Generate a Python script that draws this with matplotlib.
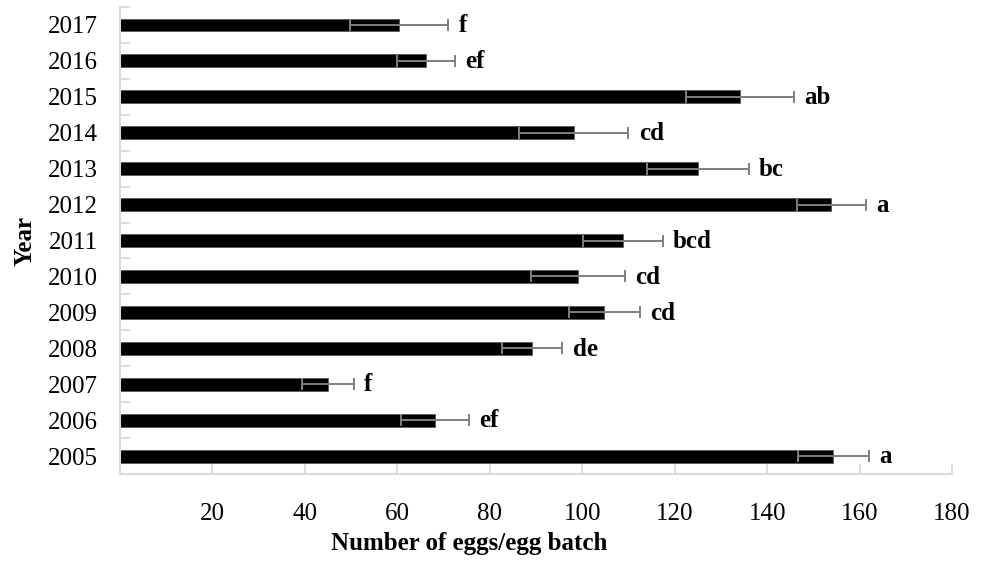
import matplotlib
matplotlib.use('Agg')
import matplotlib.pyplot as plt
import numpy as np

plt.rcParams['font.family'] = 'serif'
plt.rcParams['font.serif'] = ['Liberation Serif', 'DejaVu Serif']

years = ['2005', '2006', '2007', '2008', '2009', '2010', '2011',
         '2012', '2013', '2014', '2015', '2016', '2017']
eggs = [154.3, 68.1, 45.0, 89.2, 104.8, 99.1, 108.8,
        153.9, 125.0, 98.2, 134.1, 66.2, 60.4]
err = [7.7, 7.3, 5.6, 6.5, 7.6, 10.1, 8.6,
       7.4, 11.0, 11.8, 11.7, 6.3, 10.6]
letters = ['a', 'ef', 'f', 'de', 'cd', 'cd', 'bcd',
           'a', 'bc', 'cd', 'ab', 'ef', 'f']

axis_grey = '#d9d9d9'
err_grey = '#7f7f7f'

fig = plt.figure(figsize=(9.84, 5.61), dpi=100)
ax = fig.add_axes([0.122, 0.155, 0.8455, 0.8325])

y = np.arange(len(years))
ax.barh(y, eggs, height=0.36, color='black', edgecolor='#595959', linewidth=0.6)
ax.errorbar(eggs, y, xerr=err, fmt='none', ecolor=err_grey, elinewidth=1.4,
            capsize=4, capthick=1.4)

# significance letters just right of the error bar
for i in range(len(years)):
    ax.text(eggs[i] + err[i] + 2.2, y[i] - 0.02, letters[i], fontsize=18,
            fontweight='bold', ha='left', va='center')

ax.set_xlim(0, 180)
ax.set_ylim(-0.5, len(years) - 0.5)
ax.set_xticks(np.arange(20, 181, 20))
ax.set_yticks(y)
ax.set_yticklabels(years)
ax.set_yticks(np.arange(-0.5, len(years), 1), minor=True)

for s in ['top', 'right']:
    ax.spines[s].set_visible(False)
for s in ['left', 'bottom']:
    ax.spines[s].set_color(axis_grey)
    ax.spines[s].set_linewidth(1.5)

ax.tick_params(axis='x', direction='in', length=7, width=1.3, color=axis_grey,
               labelsize=18, pad=21)
ax.tick_params(axis='y', which='major', length=0, labelsize=18, pad=16)
ax.tick_params(axis='y', which='minor', direction='in', length=7, width=1.3,
               color=axis_grey)

ax.set_xlabel('Number of eggs/egg batch', fontsize=18, fontweight='bold')
ax.xaxis.set_label_coords(0.42, -0.125)
ax.set_ylabel('Year', fontsize=18, fontweight='bold', labelpad=8)

fig.savefig('out.png', dpi=100)
